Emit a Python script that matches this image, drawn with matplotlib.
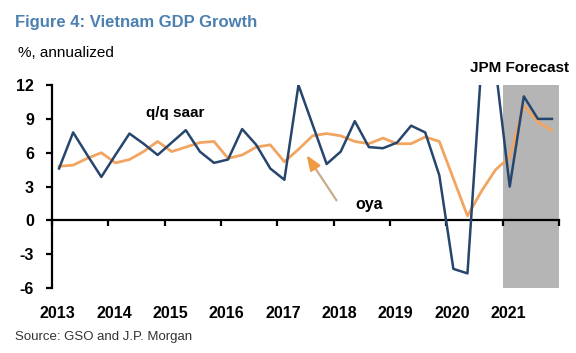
import matplotlib
matplotlib.use("Agg")
import matplotlib.pyplot as plt
import numpy as np

plt.rcParams['font.family'] = ['Liberation Sans', 'DejaVu Sans']

# quarterly data, 2013Q1 .. 2021Q4 (2021 is the JPM forecast)
years = list(range(2013, 2022))
quarters = [1, 2, 3, 4]
qq_saar = [4.6, 7.8, 5.8, 3.85,
           5.8, 7.7, 6.8, 5.8,
           6.9, 8.0, 6.1, 5.1,
           5.4, 8.1, 6.7, 4.6,
           3.6, 12.0, 8.5, 5.0,
           6.1, 8.8, 6.5, 6.4,
           6.9, 8.4, 7.8, 4.0,
           -4.3, -4.7, 14.0, 13.5,
           3.0, 11.0, 9.0, 9.0]
oya = [4.8, 4.9, 5.5, 6.0,
       5.1, 5.4, 6.1, 7.0,
       6.1, 6.5, 6.9, 7.0,
       5.5, 5.8, 6.5, 6.7,
       5.2, 6.3, 7.5, 7.7,
       7.5, 7.0, 6.8, 7.3,
       6.8, 6.8, 7.4, 7.0,
       3.7, 0.4, 2.6, 4.5,
       5.6, 10.2, 8.7, 8.0]
yticks = [-6, -3, 0, 3, 6, 9, 12]
forecast_start, forecast_end = 2021, 2022

# centre each quarter inside its year
x = np.array([y + (q - 0.5) / 4 for y in years for q in quarters])

fig = plt.figure(figsize=(5.76, 3.53), dpi=100)
ax = fig.add_axes([0.0903, 0.184, 0.8802, 0.575])

ax.axvspan(forecast_start, forecast_end, color='#b5b5b5', zorder=0, lw=0)
ax.plot(x, oya, color='#f2a561', lw=2.0, zorder=2)
ax.plot(x, qq_saar, color='#27466e', lw=1.8, zorder=3)

ax.set_xlim(2013, 2022)
ax.set_ylim(-6, 12)

# axes: left spine + zero line with year ticks
for s in ['top', 'right']:
    ax.spines[s].set_visible(False)
ax.spines['bottom'].set_position(('data', 0))
ax.spines['bottom'].set_linewidth(1.6)
ax.spines['left'].set_linewidth(1.6)

ax.set_xticks(range(2013, 2023))
ax.set_xticklabels([])
ax.tick_params(axis='x', direction='out', length=4, width=1.6)
ax.set_yticks(yticks)
ax.set_yticklabels([str(v) for v in yticks], fontsize=11.5, fontweight='bold')
ax.tick_params(axis='y', direction='out', length=4, width=1.6, pad=9)

for yr in years:
    ax.text(yr + 0.1, -0.123, str(yr), transform=ax.get_xaxis_transform(),
            ha='center', va='center', fontsize=11.5, fontweight='bold')

ax.text(2015.18, 9.5, 'q/q saar', ha='center', va='center', fontsize=11, fontweight='bold')
ax.text(2018.63, 1.4, 'oya', ha='center', va='center', fontsize=11.5, fontweight='bold')
ax.text(2021.29, 13.5, 'JPM Forecast', ha='center', va='center', fontsize=11,
        fontweight='bold', clip_on=False)

# arrow pointing at the oya line: tan shaft, orange head
tail = (2018.05, 1.78)
tip = (2017.52, 5.78)
mid = (tail[0] + (tip[0] - tail[0]) * 0.7, tail[1] + (tip[1] - tail[1]) * 0.7)
ax.annotate('', xy=mid, xytext=tail,
            arrowprops=dict(arrowstyle='-', color='#c9ab8b', lw=1.6,
                            shrinkA=0, shrinkB=0))
ax.annotate('', xy=tip, xytext=mid,
            arrowprops=dict(arrowstyle='-|>,head_length=0.9,head_width=0.35',
                            color='#f09a45', lw=1.6, shrinkA=0, shrinkB=0))

fig.text(15 / 576, 0.935, 'Figure 4: Vietnam GDP Growth', color='#4b80b0',
         fontsize=12, fontweight='bold', va='center', ha='left')
fig.text(18 / 576, 0.85, '%, annualized', fontsize=11, va='center', ha='left')
fig.text(15 / 576, 0.045, 'Source: GSO and J.P. Morgan', fontsize=9.5,
         color='#333333', va='center', ha='left')

fig.savefig('out.png', dpi=100)
